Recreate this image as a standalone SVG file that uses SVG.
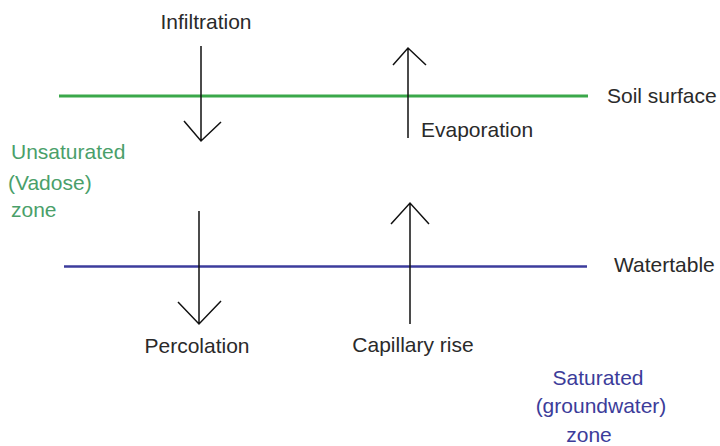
<svg xmlns="http://www.w3.org/2000/svg" width="720" height="446" viewBox="0 0 720 446">
<style>
text{font-family:"Liberation Sans",Arial,sans-serif;font-size:21px;fill:#2a2a2a}
.g{fill:#4a9f6a}
.b{fill:#3c3c9a}
.arr{stroke:#111;stroke-width:1.5;fill:none}
</style>
<rect width="720" height="446" fill="#fff"/>
<g id="soil-surface">
<line x1="59" y1="96" x2="588" y2="96" stroke="#3aa84a" stroke-width="3"/>
<text x="607" y="103">Soil surface</text>
</g>
<g id="watertable">
<line x1="64" y1="266.5" x2="587" y2="266.5" stroke="#3c3c9c" stroke-width="2.5"/>
<text x="614" y="272">Watertable</text>
</g>
<g id="unsaturated-zone">
<text class="g" x="11" y="159">Unsaturated</text>
<text class="g" x="8" y="190">(Vadose)</text>
<text class="g" x="11" y="217">zone</text>
</g>
<g id="saturated-zone">
<text class="b" x="598" y="385" text-anchor="middle">Saturated</text>
<text class="b" x="601" y="413" text-anchor="middle">(groundwater)</text>
<text class="b" x="589" y="442" text-anchor="middle">zone</text>
</g>
<g id="infiltration"><text x="206" y="29" text-anchor="middle">Infiltration</text></g>
<g id="evaporation"><text x="421" y="137">Evaporation</text></g>
<g id="percolation"><text x="197" y="353" text-anchor="middle">Percolation</text></g>
<g id="capillary-rise"><text x="413" y="352" text-anchor="middle">Capillary rise</text></g>
<g id="connectors" class="arr">
<path d="M201 46V141M184 121L201 141L221 122"/>
<path d="M408 138V48M393 65L408 48L426 65"/>
<path d="M199 211V324M178 302L199 324L221 301"/>
<path d="M410 324V203M391 224L410 203L429 224"/>
</g>
</svg>
